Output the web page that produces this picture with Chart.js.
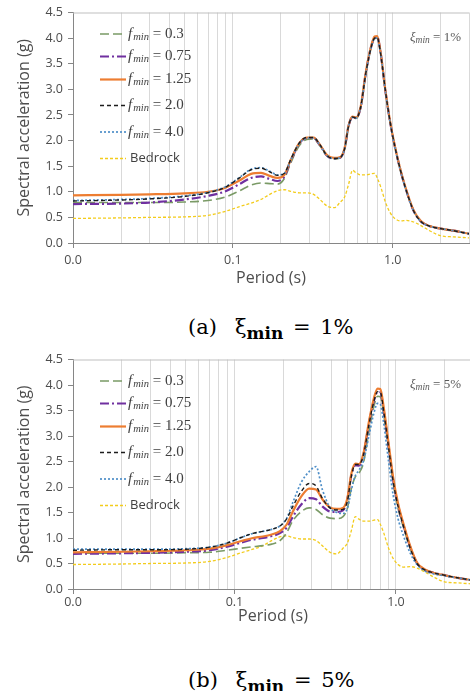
<!DOCTYPE html>
<html>
<head>
<meta charset="utf-8">
<script src="https://cdn.jsdelivr.net/npm/chart.js@4.4.1/dist/chart.umd.min.js"></script>
<style>
  html, body { margin: 0; padding: 0; background: #fff; overflow: hidden; }
  #page { position: relative; width: 470px; height: 691px; overflow: hidden; }
  canvas { position: absolute; left: 0; }
  .caption {
    position: absolute; left: 188px; white-space: nowrap; color: #000;
    font-family: "DejaVu Serif", "Liberation Serif", serif; font-size: 21px; line-height: 24px;
  }
  .caption .xi { margin-left: 18px; }
  .caption sub { font-weight: bold; font-size: 17px; line-height: 0; vertical-align: -5px; }
  .caption .eq { word-spacing: 3px; }
</style>
</head>
<body>
<div id="page">
  <canvas id="chartA" width="474" height="295" style="top:0px"></canvas>
  <div class="caption" style="top:315px">(a)<span class="xi">ξ</span><sub>min</sub><span class="eq"> = 1%</span></div>
  <canvas id="chartB" width="474" height="289" style="top:347px"></canvas>
  <div class="caption" style="top:668px">(b)<span class="xi">ξ</span><sub>min</sub><span class="eq"> = 5%</span></div>
</div>
<script>
// period axis (s)
const periods = [0.01, 0.02, 0.03, 0.05, 0.07, 0.09, 0.11, 0.13, 0.15, 0.17, 0.19, 0.21, 0.23, 0.26, 0.29, 0.32,
  0.35, 0.39, 0.43, 0.47, 0.5, 0.53, 0.56, 0.59, 0.63, 0.68, 0.73, 0.77, 0.8, 0.84, 0.9, 0.96, 1.03, 1.12,
  1.22, 1.35, 1.5, 1.7, 2.0, 2.4, 3.0];

// input motion at bedrock
const bedrock = [0.48, 0.49, 0.50, 0.51, 0.54, 0.62, 0.71, 0.78, 0.85, 0.95, 1.02, 1.04, 1.01, 0.98, 0.98, 0.95,
  0.85, 0.72, 0.69, 0.80, 0.90, 1.15, 1.42, 1.37, 1.33, 1.33, 1.35, 1.36, 1.27, 1.10, 0.80, 0.60, 0.48, 0.43,
  0.44, 0.41, 0.34, 0.24, 0.14, 0.12, 0.10];

// surface spectra, xi_min = 1%
const fmin03_a = [0.79, 0.79, 0.79, 0.80, 0.83, 0.90, 1.02, 1.13, 1.17, 1.16, 1.15, 1.26, 1.56, 1.90, 2.02, 2.03,
  1.90, 1.69, 1.64, 1.66, 1.83, 2.28, 2.45, 2.43, 2.64, 3.32, 3.79, 3.99, 4.00, 3.70, 2.97, 2.39, 1.89, 1.41,
  1.01, 0.63, 0.42, 0.33, 0.28, 0.24, 0.18];
const fmin075_a = [0.76, 0.77, 0.79, 0.85, 0.92, 1.01, 1.15, 1.27, 1.30, 1.25, 1.21, 1.30, 1.60, 1.94, 2.05, 2.05,
  1.91, 1.70, 1.65, 1.67, 1.84, 2.29, 2.46, 2.44, 2.65, 3.34, 3.81, 4.01, 4.02, 3.71, 2.97, 2.39, 1.89, 1.41,
  1.01, 0.63, 0.42, 0.33, 0.28, 0.24, 0.18];
const fmin125_a = [0.93, 0.94, 0.95, 0.97, 1.00, 1.08, 1.22, 1.35, 1.37, 1.31, 1.27, 1.33, 1.62, 1.95, 2.06, 2.06,
  1.92, 1.71, 1.66, 1.68, 1.85, 2.30, 2.47, 2.45, 2.66, 3.35, 3.82, 4.03, 4.04, 3.72, 2.98, 2.40, 1.90, 1.42,
  1.02, 0.64, 0.43, 0.33, 0.28, 0.24, 0.18];
const fmin20_a = [0.82, 0.84, 0.86, 0.91, 0.98, 1.09, 1.27, 1.43, 1.46, 1.39, 1.32, 1.36, 1.63, 1.95, 2.06, 2.06,
  1.92, 1.70, 1.65, 1.67, 1.84, 2.29, 2.46, 2.44, 2.65, 3.33, 3.80, 4.00, 4.01, 3.70, 2.97, 2.39, 1.89, 1.41,
  1.01, 0.63, 0.42, 0.33, 0.28, 0.24, 0.18];
const fmin40_a = [0.83, 0.85, 0.87, 0.92, 0.99, 1.10, 1.28, 1.44, 1.47, 1.40, 1.33, 1.36, 1.62, 1.94, 2.05, 2.05,
  1.91, 1.70, 1.65, 1.67, 1.84, 2.29, 2.45, 2.44, 2.65, 3.32, 3.79, 3.99, 4.00, 3.69, 2.96, 2.38, 1.88, 1.40,
  1.00, 0.63, 0.42, 0.33, 0.28, 0.24, 0.18];

// surface spectra, xi_min = 5%
const fmin03_b = [0.70, 0.70, 0.70, 0.71, 0.72, 0.76, 0.80, 0.83, 0.85, 0.88, 0.94, 1.10, 1.34, 1.52, 1.59, 1.56,
  1.46, 1.39, 1.38, 1.42, 1.58, 1.98, 2.20, 2.27, 2.48, 3.08, 3.58, 3.78, 3.77, 3.42, 2.74, 2.08, 1.58, 1.18,
  0.81, 0.50, 0.37, 0.31, 0.26, 0.22, 0.17];
const fmin075_b = [0.69, 0.70, 0.71, 0.73, 0.76, 0.83, 0.91, 0.97, 1.00, 1.04, 1.09, 1.20, 1.42, 1.66, 1.78, 1.76,
  1.62, 1.52, 1.51, 1.54, 1.76, 2.24, 2.43, 2.42, 2.64, 3.24, 3.69, 3.87, 3.86, 3.50, 2.80, 2.14, 1.64, 1.22,
  0.84, 0.51, 0.38, 0.32, 0.27, 0.22, 0.17];
const fmin125_b = [0.72, 0.73, 0.74, 0.76, 0.79, 0.86, 0.94, 1.00, 1.03, 1.07, 1.13, 1.26, 1.52, 1.82, 1.97, 1.95,
  1.76, 1.60, 1.57, 1.59, 1.78, 2.27, 2.46, 2.45, 2.67, 3.28, 3.74, 3.93, 3.92, 3.56, 2.86, 2.20, 1.68, 1.25,
  0.86, 0.52, 0.39, 0.32, 0.27, 0.22, 0.17];
const fmin20_b = [0.76, 0.77, 0.77, 0.78, 0.82, 0.90, 1.01, 1.09, 1.13, 1.17, 1.23, 1.37, 1.62, 1.92, 2.07, 2.02,
  1.78, 1.59, 1.55, 1.56, 1.72, 2.22, 2.44, 2.44, 2.64, 3.22, 3.68, 3.87, 3.86, 3.48, 2.78, 2.12, 1.62, 1.20,
  0.82, 0.50, 0.38, 0.32, 0.27, 0.22, 0.17];
const fmin40_b = [0.78, 0.78, 0.78, 0.79, 0.82, 0.90, 1.01, 1.09, 1.13, 1.17, 1.23, 1.38, 1.70, 2.10, 2.30, 2.40,
  1.95, 1.60, 1.50, 1.48, 1.58, 1.95, 2.22, 2.33, 2.52, 3.00, 3.45, 3.64, 3.62, 3.25, 2.50, 1.85, 1.38, 1.02,
  0.72, 0.48, 0.36, 0.30, 0.26, 0.22, 0.17];

const fminLabels = ['0.3', '0.75', '1.25', '2.0', '4.0'];
const tickPeriods = [0.01, 0.1, 1];
const tickLabels = ['0.0', '0.1', '1.0'];
const yTicks = [0, 0.5, 1, 1.5, 2, 2.5, 3, 3.5, 4, 4.5];

// line styles, same order as fminLabels
const lineStyles = [
  { color: '#7a9a66', width: 1.6, dash: [9, 4], order: 5 },
  { color: '#7030a0', width: 2.2, dash: [9, 3, 2, 3], order: 4 },
  { color: '#ed7d31', width: 2.2, dash: [], order: 3 },
  { color: '#1c1c1c', width: 1.4, dash: [4, 3], order: 1 },
  { color: '#4f8fc8', width: 1.7, dash: [2, 2], order: 2 }
];
const bedrockStyle = { color: '#f3cc1c', width: 1.3, dash: [3, 2], order: 6 };

// vertical grid at 1..9 x each decade
const gridPeriods = [];
[0.01, 0.1, 1].forEach(d => {
  for (let k = 1; k <= 9; k++) {
    const v = +(k * d).toPrecision(3);
    if (v <= 3) gridPeriods.push(v);
  }
});
const isMajor = v => tickPeriods.some(t => Math.abs(t - v) < 1e-9);

function toPoints(values) {
  return values.map((y, i) => ({ x: periods[i], y: y }));
}

function makeDataset(label, values, st) {
  return {
    label: label,
    data: toPoints(values),
    borderColor: st.color,
    borderWidth: st.width,
    borderDash: st.dash,
    order: st.order,
    pointRadius: 0,
    fill: false,
    cubicInterpolationMode: 'monotone'
  };
}

const legendRows = [21.5, 44, 67, 93, 119.5, 146];

const chartDecor = {
  id: 'chartDecor',
  beforeDatasetsDraw(chart) {
    const { ctx, chartArea } = chart;
    ctx.save();
    ctx.strokeStyle = '#bfbfbf';
    ctx.lineWidth = 1;
    ctx.beginPath();
    ctx.moveTo(chartArea.left, chartArea.top + 0.5);
    ctx.lineTo(chartArea.right, chartArea.top + 0.5);
    ctx.stroke();
    ctx.restore();
  },
  afterDraw(chart, args, opts) {
    const { ctx, chartArea } = chart;
    ctx.save();
    ctx.textBaseline = 'middle';
    chart.data.datasets.forEach((ds, i) => {
      const y = chartArea.top + legendRows[i];
      ctx.strokeStyle = ds.borderColor;
      ctx.lineWidth = ds.borderWidth;
      ctx.setLineDash(ds.borderDash);
      ctx.beginPath();
      ctx.moveTo(100, y);
      ctx.lineTo(126, y);
      ctx.stroke();
      ctx.setLineDash([]);
      ctx.fillStyle = '#404040';
      if (i < fminLabels.length) {
        let x = 128;
        ctx.font = 'italic 15px "Liberation Serif"';
        ctx.fillText('f', x, y);
        x += ctx.measureText('f').width + 1;
        ctx.font = 'italic 10.5px "Liberation Serif"';
        ctx.fillText('min', x, y + 3);
        x += ctx.measureText('min').width;
        ctx.font = '15px "Liberation Serif"';
        ctx.fillText(' = ' + fminLabels[i], x, y);
      } else {
        ctx.font = '13px "Open Sans"';
        ctx.fillText(ds.label, 130, y);
      }
    });
    // damping note in the top right corner
    let x = chartArea.left + 337;
    const y = chartArea.top + 25;
    ctx.fillStyle = '#595959';
    ctx.font = 'italic 13px "Liberation Serif"';
    ctx.fillText('ξ', x, y);
    x += ctx.measureText('ξ').width;
    ctx.font = 'italic 9.5px "Liberation Serif"';
    ctx.fillText('min', x, y + 3);
    x += ctx.measureText('min').width;
    ctx.font = '13px "Liberation Serif"';
    ctx.fillText(' = ' + opts.note, x, y);
    ctx.restore();
  }
};

function makeChart(id, series, note, xAxisHeight, tickPad, titlePad) {
  const datasets = series.map((vals, i) => makeDataset('fmin = ' + fminLabels[i], vals, lineStyles[i]));
  datasets.push(makeDataset('Bedrock', bedrock, bedrockStyle));
  return new Chart(document.getElementById(id), {
    type: 'line',
    data: { datasets: datasets },
    plugins: [chartDecor],
    options: {
      responsive: false,
      animation: false,
      layout: { padding: { top: 10, left: 0, right: 0, bottom: 0 } },
      plugins: {
        legend: { display: false },
        tooltip: { enabled: false },
        chartDecor: { note: note }
      },
      scales: {
        x: {
          type: 'logarithmic',
          min: 0.01,
          max: 3,
          afterBuildTicks: s => { s.ticks = gridPeriods.map(v => ({ value: v })); },
          afterFit: s => { s.height = xAxisHeight; },
          ticks: {
            autoSkip: false,
            maxRotation: 0,
            padding: tickPad,
            color: '#4d4d4d',
            font: { family: 'Open Sans', size: 12.5 },
            callback: v => {
              const k = tickPeriods.findIndex(t => Math.abs(t - v) < 1e-9);
              return k < 0 ? '' : tickLabels[k];
            }
          },
          grid: {
            color: '#d9d9d9',
            lineWidth: 1,
            tickLength: 5,
            tickColor: c => (c.tick && isMajor(c.tick.value)) ? '#868686' : 'rgba(0,0,0,0)'
          },
          border: { color: '#868686' },
          title: {
            display: true,
            text: 'Period (s)',
            color: '#4d4d4d',
            font: { family: 'Open Sans', size: 16 },
            padding: { top: 0, bottom: titlePad }
          }
        },
        y: {
          min: 0,
          max: 4.5,
          afterBuildTicks: s => { s.ticks = yTicks.map(v => ({ value: v })); },
          afterFit: s => { s.width = 73; },
          ticks: {
            padding: 5,
            color: '#4d4d4d',
            font: { family: 'Open Sans', size: 12.5 },
            callback: v => v.toFixed(1)
          },
          grid: { drawOnChartArea: false, tickLength: 5, tickColor: '#868686' },
          border: { color: '#868686' },
          title: {
            display: true,
            text: 'Spectral acceleration (g)',
            color: '#4d4d4d',
            font: { family: 'Open Sans', size: 16 },
            padding: { top: 15, bottom: 0 }
          }
        }
      }
    }
  });
}

makeChart('chartA', [fmin03_a, fmin075_a, fmin125_a, fmin20_a, fmin40_a], '1%', 52, 5, 7);
makeChart('chartB', [fmin03_b, fmin075_b, fmin125_b, fmin20_b, fmin40_b], '5%', 47, 1, 10);
</script>
</body>
</html>
